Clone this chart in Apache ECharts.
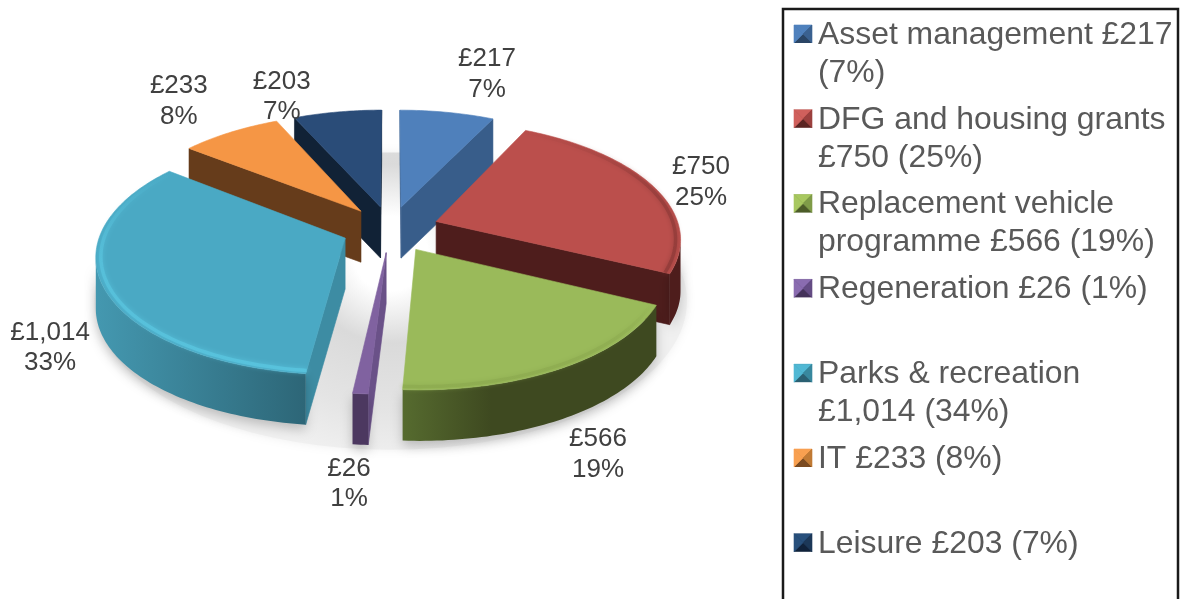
<!DOCTYPE html>
<html>
<head>
<meta charset="utf-8">
<style>html,body{margin:0;padding:0;background:#fff}#c{width:1180px;height:599px}</style>
<script src="https://cdn.jsdelivr.net/npm/echarts@6/dist/echarts.min.js"></script>
</head>
<body>
<div id="c"></div>
<script>
const categories = ['Asset management','DFG and housing grants','Replacement vehicle programme','Regeneration','Parks & recreation','IT','Leisure'];
const values = [217,750,566,26,1014,233,203];
const labelPercents = ['7%','25%','19%','1%','33%','8%','7%'];
const valueTexts = ['£217','£750','£566','£26','£1,014','£233','£203'];
const legendTexts = [
  'Asset management £217\n(7%)',
  'DFG and housing grants\n£750 (25%)',
  'Replacement vehicle\nprogramme £566 (19%)',
  'Regeneration £26 (1%)',
  'Parks & recreation\n£1,014 (34%)',
  'IT £233 (8%)',
  'Leisure £203 (7%)'
];
const drawOrder = [6,0,5,1,3,4,2];

// styling and layout (not data)
const topColors  = ['#4f80bb','#bb4f4c','#9aba5a','#8062a0','#4aa9c4','#f59645','#2a4c78'];
const cutColors  = ['#385d8a','#4e1d1c','#3f4a20','#6a5188','#3d8ca3','#663c1b','#112236'];
const outerFrom  = ['#385d8a','#4e1d1c','#566b2f','#4c3860','#4498b0','#663c1b','#112236'];
const outerTo    = ['#385d8a','#4e1d1c','#3e4920','#4c3860','#2d6677','#663c1b','#112236'];
const outerStop  = [1,1,0.35,1,1,1,1];
const rimColors  = [null,'#8f3a38','#8dab50',null,'#5ac6e0',null,null];
const iconLight  = ['#4f81bd','#d0605c','#a8c860','#8a6cb0','#50b8d4','#f8a050','#28507c'];
const iconMid    = ['#3a6190','#9c403e','#7f9c48','#644c84','#38889e','#c07a34','#1c3858'];
const iconDark   = ['#2a4565','#5a2422','#4c5c28','#44325a','#2a6072','#7a4a20','#10223a'];
const labelOffsets = [[30.9,-20],[34.5,-0.8],[59.4,107.5],[-16.2,118.5],[-71.1,66.2],[-30.9,-18.9],[-47.3,3]];
const CX = 390.5, CY = 229, RX = 243.5, RY = 115.5, K = 0.135, EXPLODE = 0.2, DEPTH = 51;
const LEGEND_X = 818, LEGEND_ICON_X = 794, LEGEND_Y0 = 35, LEGEND_STEP = 84.8, LEGEND_LH = 38;
const FONT = '"Liberation Sans", Arial, sans-serif';

const total = values.reduce((a,b)=>a+b,0);
const cum = [];
values.reduce((a,b,i)=>{cum[i]=a;return a+b;},0);
const rad = v => v/total*2*Math.PI;

function project(u,v,ox,oy){
  const d = 1 + K*v;
  return [CX + (ox||0) + RX*u/d, CY + (oy||0) - RY*v/d];
}
function slicePoints(i){
  const a0 = rad(cum[i]), a1 = rad(cum[i]+values[i]), m = (a0+a1)/2;
  const ex = EXPLODE*Math.sin(m), ey = EXPLODE*Math.cos(m);
  const n = Math.max(4, Math.ceil((a1-a0)/0.02));
  const arc = (r)=>{
    const out=[];
    for(let k=0;k<=n;k++){
      const a=a0+(a1-a0)*k/n;
      out.push(project(ex+r*Math.sin(a), ey+r*Math.cos(a)));
    }
    return out;
  };
  return {apex:project(ex,ey), arc:arc(1), inner:arc(0.98),
    mid:[390.5+243.5*(1+EXPLODE)*Math.sin(m), 228.5-114.6*(1+EXPLODE)*Math.cos(m)]};
}
const down = p => [p[0],p[1]+DEPTH];
function poly(points, fill, z2){
  const stroke = typeof fill === 'string' ? fill : 'none';
  return {type:'polygon', z2:z2, silent:true, shape:{points}, style:{fill, stroke, lineWidth:0.6}};
}

function renderSlice(params, api){
  const i = api.value(0);
  const s = slicePoints(i);
  const children = [];
  const z = params.dataIndex*10;
  const start = s.arc[0], end = s.arc[s.arc.length-1];
  if(start[0] < s.apex[0]-0.01) children.push(poly([s.apex,start,down(start),down(s.apex)], cutColors[i], z+1));
  if(s.apex[0] < end[0]-0.01) children.push(poly([end,s.apex,down(s.apex),down(end)], cutColors[i], z+1));
  // outer wall: only the stretches of rim that run right-to-left face the viewer
  const vis=[];
  for(let k=1;k<s.arc.length;k++){ if(s.arc[k][0]<s.arc[k-1][0]){ if(!vis.length) vis.push(s.arc[k-1]); vis.push(s.arc[k]); } }
  if(vis.length>1){
    const grad = new echarts.graphic.LinearGradient(0,0,1,0,[{offset:0,color:outerFrom[i]},{offset:outerStop[i],color:outerTo[i]},{offset:1,color:outerTo[i]}]);
    const wall = poly(vis.concat(vis.slice().reverse().map(down)), grad, z+2);
    wall.style.shadowBlur = 12; wall.style.shadowOffsetY = 5; wall.style.shadowColor = 'rgba(0,0,0,0.22)';
    children.push(wall);
  }
  children.push(poly([s.apex].concat(s.arc), topColors[i], z+3));
  if(rimColors[i]){
    children.push({type:'polyline', z2:z+4, silent:true, shape:{points:s.inner},
      style:{fill:'none', lineWidth:3.5, shadowBlur:5, shadowColor:rimColors[i],
        stroke:new echarts.graphic.LinearGradient(0,0,0,1,[{offset:0,color:rimColors[i]+'00'},{offset:0.45,color:rimColors[i]+'a0'},{offset:1,color:rimColors[i]+'c8'}])}});
  }
  return {type:'group', children};
}

function renderFloor(params, api){
  const pts=[];
  for(let k=0;k<=180;k++){
    const a=k/180*2*Math.PI;
    pts.push(project(1.2*Math.sin(a),1.25*Math.cos(a),0,47));
  }
  return {type:'polygon', silent:true, shape:{points:pts}, style:{
    fill:new echarts.graphic.RadialGradient(0.5,0.34,0.7,[{offset:0,color:'#ffffff'},{offset:0.18,color:'#ffffff'},{offset:0.43,color:'#dadada'},{offset:0.75,color:'#e4e4e4'},{offset:1,color:'#f0f0f0'}]),
    shadowBlur:10, shadowColor:'#efefef'}};
}

function renderLabel(params, api){
  const i = api.value(0);
  const s = slicePoints(i);
  return {type:'text', silent:true, style:{
    text: valueTexts[i]+'\n'+labelPercents[i],
    x: s.mid[0]+labelOffsets[i][0], y: s.mid[1]+labelOffsets[i][1],
    align:'center', verticalAlign:'middle', lineHeight:30.5,
    fontSize:26, fontFamily:FONT, fill:'#404040'}};
}

function renderLegend(params, api){
  const i = api.value(0);
  const y = LEGEND_Y0 + i*LEGEND_STEP;
  const x0=LEGEND_ICON_X, x1=x0+18, y0=y-10, y1=y+8, cx=(x0+x1)/2, cy=(y0+y1)/2;
  return {type:'group', children:[
    {type:'rect', silent:true, shape:{x:x0,y:y0,width:18,height:18}, style:{fill:iconDark[i]}},
    poly([[x0,y0],[x1,y0],[cx,cy]], iconLight[i], 1),
    poly([[x1,y0],[x1,y1],[cx,cy]], iconMid[i], 1),
    poly([[x0,y0],[cx,cy],[x0,y1]], iconLight[i], 1),
    {type:'text', silent:true, style:{text:legendTexts[i], x:LEGEND_X, y:y-LEGEND_LH/2, align:'left', verticalAlign:'top',
      lineHeight:LEGEND_LH, fontSize:31.9, fontFamily:FONT, fill:'#595959'}}
  ]};
}

const chart = echarts.init(document.getElementById('c'), null, {renderer:'canvas'});
chart.setOption({
  animation:false,
  backgroundColor:'#ffffff',
  graphic:[{type:'rect', silent:true, z:0, shape:{x:783,y:9,width:395,height:620}, style:{fill:'#fff',stroke:'#1a1a1a',lineWidth:2.5}}],
  tooltip:{show:false},
  series:[
    {type:'custom', name:'floor', coordinateSystem:'none', z:1, silent:true, renderItem:renderFloor, data:[[0]]},
    {type:'custom', name:'slices', coordinateSystem:'none', z:2, silent:true, renderItem:renderSlice,
      data:drawOrder.map(i=>({name:categories[i], value:[i,values[i]]}))},
    {type:'custom', name:'labels', coordinateSystem:'none', z:3, silent:true, renderItem:renderLabel,
      data:values.map((v,i)=>({name:categories[i], value:[i,v]}))},
    {type:'custom', name:'legend', coordinateSystem:'none', z:4, silent:true, renderItem:renderLegend,
      data:values.map((v,i)=>({name:categories[i], value:[i,v]}))}
  ]
});
</script>
</body>
</html>
